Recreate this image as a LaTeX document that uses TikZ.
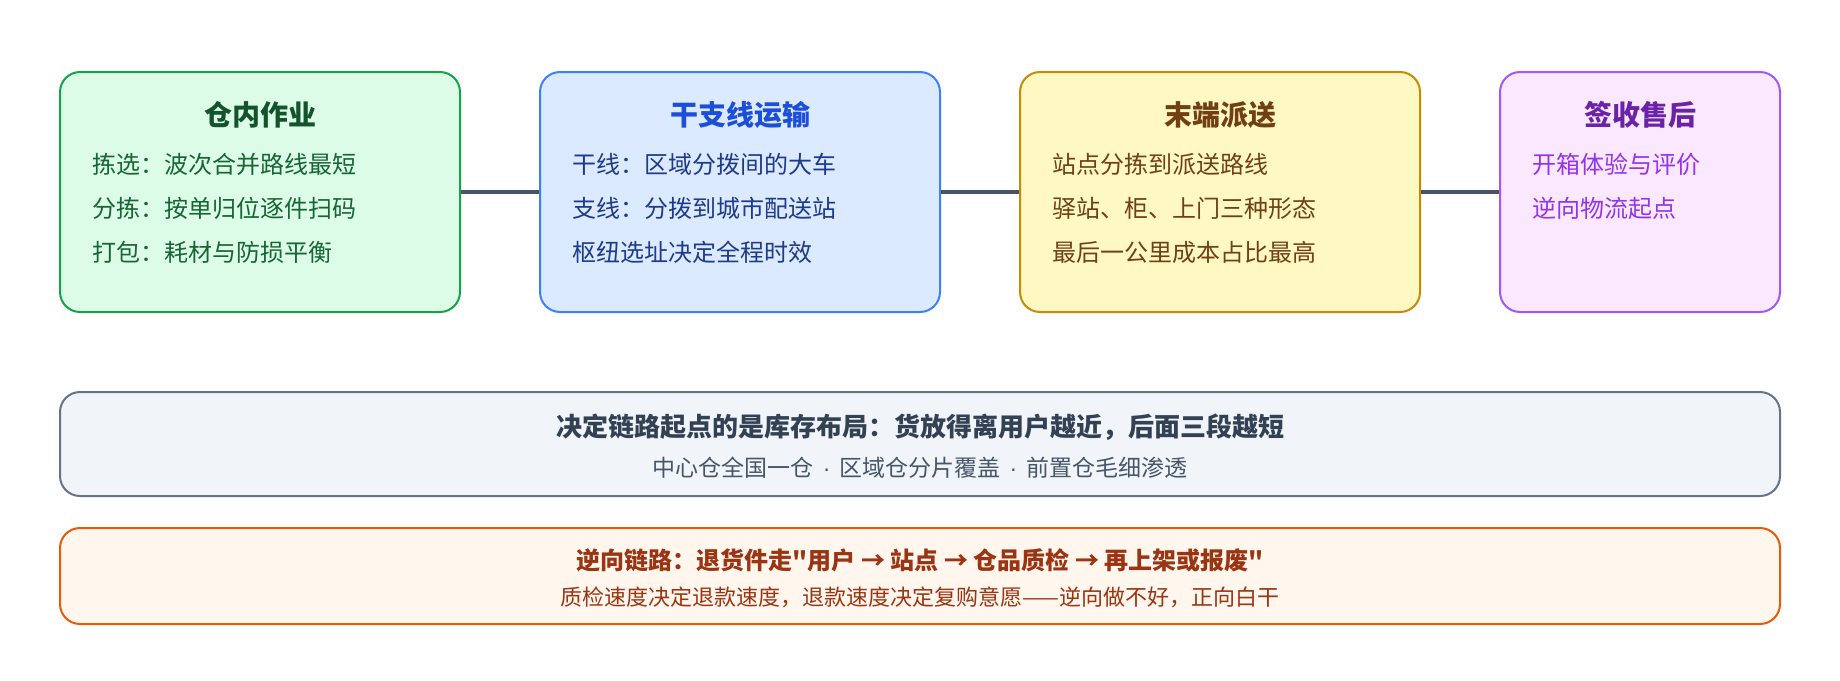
\documentclass[tikz,border=0pt]{standalone}
\usepackage{fontspec}
\setmainfont{Noto Sans CJK SC}[Ligatures=TeXOff]
\newfontfamily\latinfont{Liberation Sans}
\newcommand{\mdot}{\hspace{4.5pt}{\latinfont ·}\hspace{4.5pt}}
\definecolor{gfill}{HTML}{DCFCE7}\definecolor{gline}{HTML}{16A34A}\definecolor{gtitle}{HTML}{14532D}\definecolor{gtext}{HTML}{166534}
\definecolor{bfill}{HTML}{DBEAFE}\definecolor{bline}{HTML}{3B82F6}\definecolor{btitle}{HTML}{1D4ED8}\definecolor{btext}{HTML}{1E3A8A}
\definecolor{yfill}{HTML}{FEF9C3}\definecolor{yline}{HTML}{CA8A04}\definecolor{ytitle}{HTML}{713F12}\definecolor{ytext}{HTML}{713F12}
\definecolor{pfill}{HTML}{FAE8FF}\definecolor{pline}{HTML}{A855F7}\definecolor{ptitle}{HTML}{6B21A8}\definecolor{ptext}{HTML}{9333EA}
\definecolor{sfill}{HTML}{F1F5F9}\definecolor{sline}{HTML}{64748B}\definecolor{stitle}{HTML}{334155}\definecolor{stext}{HTML}{475569}
\definecolor{ofill}{HTML}{FFF7ED}\definecolor{oline}{HTML}{EA580C}\definecolor{otitle}{HTML}{9A3412}\definecolor{otext}{HTML}{9A3412}
\definecolor{connc}{HTML}{475569}
\tikzset{
  card/.style={draw, rectangle, rounded corners=10pt, line width=1pt, inner sep=0pt},
  stagecard/.style={card, minimum height=120pt},
  ttl/.style={inner sep=0pt, font=\fontsize{14pt}{16pt}\selectfont\bfseries},
  itm/.style={inner sep=0pt, anchor=west, font=\fontsize{12pt}{14pt}\selectfont},
  conn/.style={draw=connc, line width=1.75pt},
}
\begin{document}
\begin{tikzpicture}[x=0.5pt,y=-0.5pt]
\useasboundingbox[fill=white] (0,0) rectangle (1840,680);
% stage cards
\node[stagecard, fill=gfill, draw=gline, minimum width=200pt] (s1) at (260,192) {};
\node[stagecard, fill=bfill, draw=bline, minimum width=200pt] (s2) at (740,192) {};
\node[stagecard, fill=yfill, draw=yline, minimum width=200pt] (s3) at (1220,192) {};
\node[stagecard, fill=pfill, draw=pline, minimum width=140pt] (s4) at (1640,192) {};
% connectors
\draw[conn] (s1.east) -- (s2.west);
\draw[conn] (s2.east) -- (s3.west);
\draw[conn] (s3.east) -- (s4.west);
% card 1
\node[ttl, text=gtitle] (t1) at (260,115) {仓内作业};
\node[itm, text=gtext] (i11) at (92,164) {拣选：波次合并路线最短};
\node[itm, text=gtext] (i12) at (92,208) {分拣：按单归位逐件扫码};
\node[itm, text=gtext] (i13) at (92,252) {打包：耗材与防损平衡};
% card 2
\node[ttl, text=btitle] (t2) at (740,115) {干支线运输};
\node[itm, text=btext] (i21) at (572,164) {干线：区域分拨间的大车};
\node[itm, text=btext] (i22) at (572,208) {支线：分拨到城市配送站};
\node[itm, text=btext] (i23) at (572,252) {枢纽选址决定全程时效};
% card 3
\node[ttl, text=ytitle] (t3) at (1220,115) {末端派送};
\node[itm, text=ytext] (i31) at (1052,164) {站点分拣到派送路线};
\node[itm, text=ytext] (i32) at (1052,208) {驿站、柜、上门三种形态};
\node[itm, text=ytext] (i33) at (1052,252) {最后一公里成本占比最高};
% card 4
\node[ttl, text=ptitle] (t4) at (1640,115) {签收售后};
\node[itm, text=ptext] (i41) at (1532,164) {开箱体验与评价};
\node[itm, text=ptext] (i42) at (1532,208) {逆向物流起点};
% summary box
\node[card, fill=sfill, draw=sline, minimum width=860pt, minimum height=52pt] (sum) at (920,444) {};
\node[inner sep=0pt, text=stitle, font=\fontsize{13pt}{15pt}\selectfont\bfseries] (sumt) at (920,427) {决定链路起点的是库存布局：货放得离用户越近，后面三段越短};
\node[inner sep=0pt, text=stext, font=\fontsize{11.5pt}{13pt}\selectfont] (sums) at (920,468) {中心仓全国一仓\mdot 区域仓分片覆盖\mdot 前置仓毛细渗透};
% reverse box
\node[card, fill=ofill, draw=oline, minimum width=860pt, minimum height=48pt] (rev) at (920,576) {};
\node[inner sep=0pt, text=otitle, font=\fontsize{12pt}{14pt}\selectfont\bfseries] (revt) at (920,560) {逆向链路：退货件走"用户 → 站点 → 仓品质检 → 再上架或报废"};
\node[inner sep=0pt, text=otext, font=\fontsize{11pt}{13pt}\selectfont] (revs) at (920,597) {质检速度决定退款速度，退款速度决定复购意愿——逆向做不好，正向白干};
\end{tikzpicture}
\end{document}
